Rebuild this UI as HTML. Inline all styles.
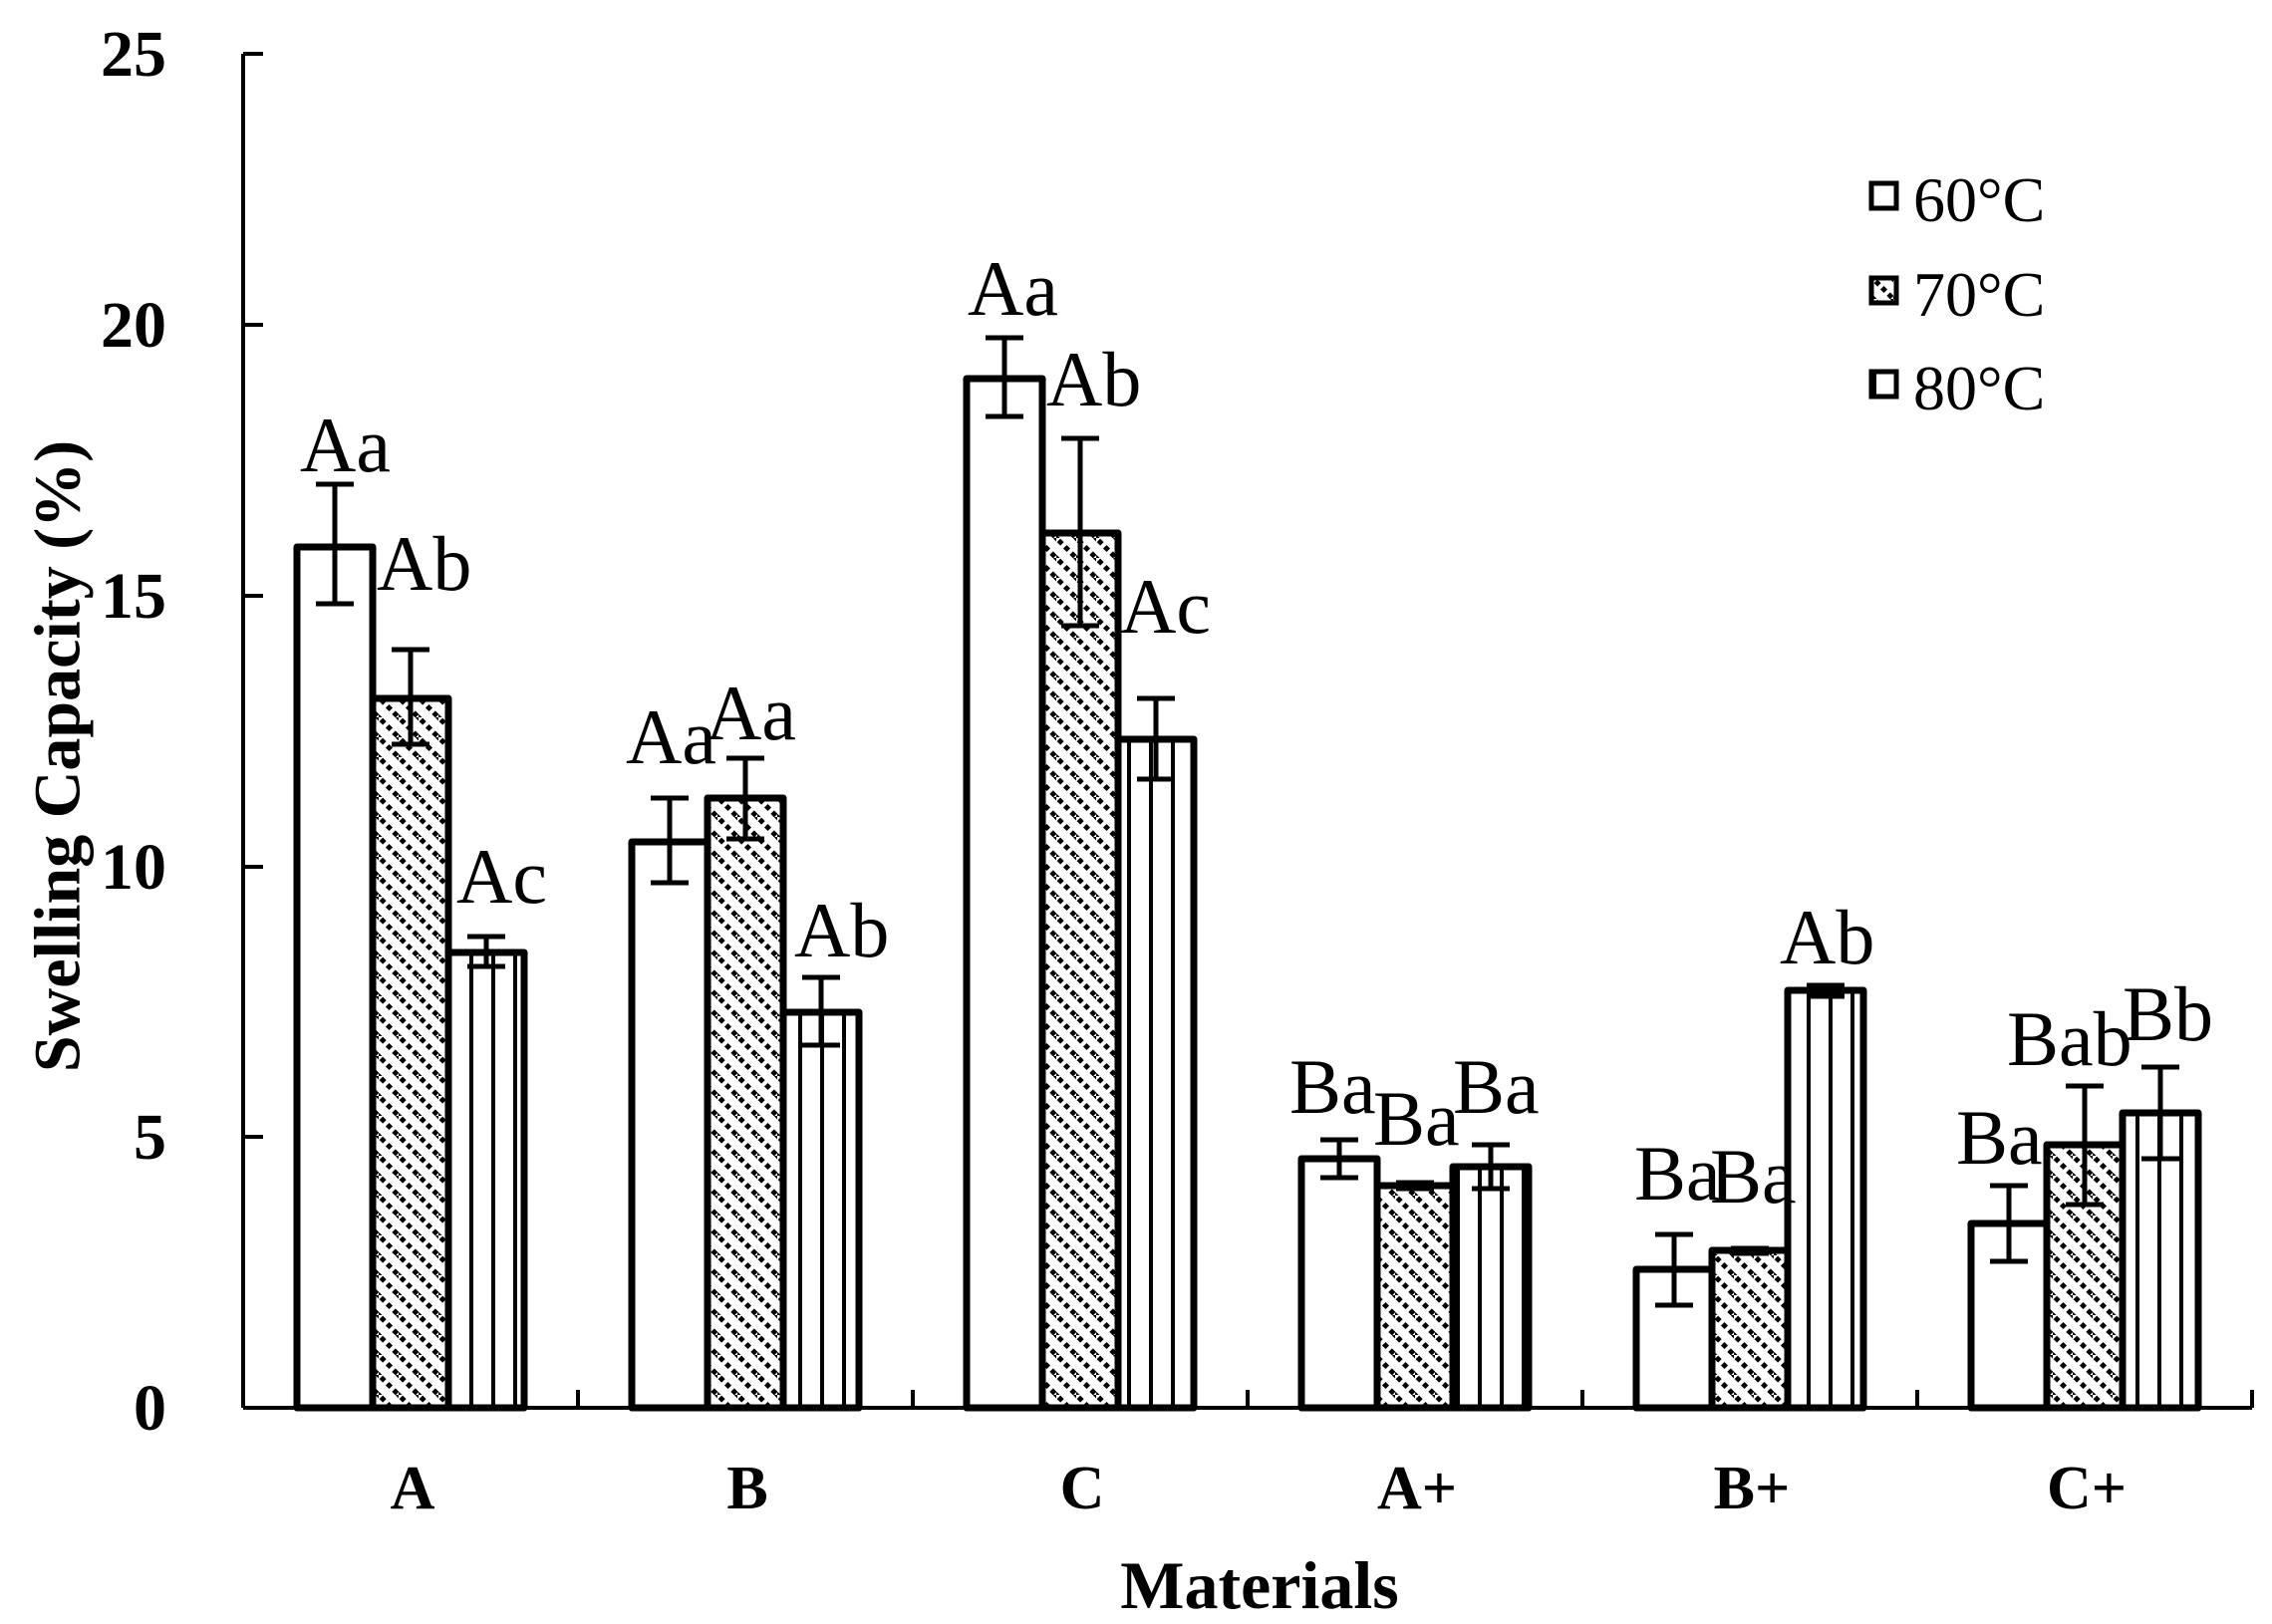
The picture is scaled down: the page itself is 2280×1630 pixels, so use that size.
<!DOCTYPE html>
<html><head><meta charset="utf-8"><style>body{margin:0;background:#fff}svg{display:block}</style></head>
<body>
<svg width="2280" height="1630" viewBox="0 0 2280 1630" xmlns="http://www.w3.org/2000/svg" font-family="'Liberation Serif', serif">
<defs>
<pattern id="diag" patternUnits="userSpaceOnUse" width="20" height="20">
<rect width="20" height="20" fill="#fff"/>
<path d="M-4,-4 L24,24 M-14,6 L6,26 M6,-14 L26,6" stroke="#000" stroke-width="5" stroke-dasharray="5,4"/>
</pattern>
<pattern id="vert" patternUnits="userSpaceOnUse" width="22" height="10">
<rect width="22" height="10" fill="#fff"/>
<rect x="9" y="0" width="4" height="10" fill="#000"/>
</pattern>
</defs>
<g stroke="#000" stroke-width="4" fill="none">
<line x1="244" y1="54" x2="244" y2="1413"/>
<line x1="244" y1="1413" x2="2260" y2="1413"/>
<line x1="244" y1="54" x2="264" y2="54"/>
<line x1="244" y1="326" x2="264" y2="326"/>
<line x1="244" y1="598" x2="264" y2="598"/>
<line x1="244" y1="870" x2="264" y2="870"/>
<line x1="244" y1="1141" x2="264" y2="1141"/>
<line x1="580" y1="1413" x2="580" y2="1395"/>
<line x1="916" y1="1413" x2="916" y2="1395"/>
<line x1="1252" y1="1413" x2="1252" y2="1395"/>
<line x1="1588" y1="1413" x2="1588" y2="1395"/>
<line x1="1924" y1="1413" x2="1924" y2="1395"/>
<line x1="2260" y1="1413" x2="2260" y2="1395"/>
</g>
<g font-weight="bold" font-size="66" text-anchor="end">
<text x="167" y="76">25</text><text x="167" y="348">20</text><text x="167" y="620">15</text><text x="167" y="892">10</text><text x="167" y="1163">5</text><text x="167" y="1435">0</text>
</g>
<text transform="translate(58,759) rotate(-90)" text-anchor="middle" dominant-baseline="central" font-weight="bold" font-size="66">Swelling Capacity (%)</text>
<g font-weight="bold" font-size="62" text-anchor="middle">
<text x="414" y="1514">A</text><text x="750" y="1514">B</text><text x="1086" y="1514">C</text><text x="1422" y="1514">A+</text><text x="1758" y="1514">B+</text><text x="2094" y="1514">C+</text>
</g>
<text x="1264" y="1614" text-anchor="middle" font-weight="bold" font-size="68">Materials</text>
<g stroke="#000" stroke-width="7" stroke-linejoin="round">
<rect x="298" y="549" width="76" height="864" fill="#fff"/>
<rect x="374" y="701" width="76" height="712" fill="url(#diag)"/>
<rect x="450" y="956" width="76" height="457" fill="url(#vert)"/>
<rect x="634" y="845" width="76" height="568" fill="#fff"/>
<rect x="710" y="801" width="76" height="612" fill="url(#diag)"/>
<rect x="786" y="1016" width="76" height="397" fill="url(#vert)"/>
<rect x="970" y="380" width="76" height="1033" fill="#fff"/>
<rect x="1046" y="535" width="76" height="878" fill="url(#diag)"/>
<rect x="1122" y="742" width="76" height="671" fill="url(#vert)"/>
<rect x="1306" y="1163" width="76" height="250" fill="#fff"/>
<rect x="1382" y="1190" width="76" height="223" fill="url(#diag)"/>
<rect x="1458" y="1171" width="76" height="242" fill="url(#vert)"/>
<rect x="1642" y="1274" width="76" height="139" fill="#fff"/>
<rect x="1718" y="1255" width="76" height="158" fill="url(#diag)"/>
<rect x="1794" y="994" width="76" height="419" fill="url(#vert)"/>
<rect x="1978" y="1228" width="76" height="185" fill="#fff"/>
<rect x="2054" y="1149" width="76" height="264" fill="url(#diag)"/>
<rect x="2130" y="1117" width="76" height="296" fill="url(#vert)"/>
</g>
<g stroke="#000" stroke-width="5" fill="none">
<path d="M336,606V486M317,486H355M317,606H355"/>
<path d="M412,747V652M393,652H431M393,747H431"/>
<path d="M488,970V940M469,940H507M469,970H507"/>
<path d="M672,886V801M653,801H691M653,886H691"/>
<path d="M748,842V761M729,761H767M729,842H767"/>
<path d="M824,1049V981M805,981H843M805,1049H843"/>
<path d="M1008,418V339M989,339H1027M989,418H1027"/>
<path d="M1084,628V440M1065,440H1103M1065,628H1103"/>
<path d="M1160,782V701M1141,701H1179M1141,782H1179"/>
<path d="M1344,1182V1144M1325,1144H1363M1325,1182H1363"/>
<path d="M1420,1193V1187M1401,1187H1439M1401,1193H1439"/>
<path d="M1496,1193V1149M1477,1149H1515M1477,1193H1515"/>
<path d="M1680,1310V1239M1661,1239H1699M1661,1310H1699"/>
<path d="M1756,1258V1253M1737,1253H1775M1737,1258H1775"/>
<path d="M1832,1000V989M1813,989H1851M1813,1000H1851"/>
<path d="M2016,1266V1190M1997,1190H2035M1997,1266H2035"/>
<path d="M2092,1209V1090M2073,1090H2111M2073,1209H2111"/>
<path d="M2168,1163V1071M2149,1071H2187M2149,1163H2187"/>
</g>
<g font-size="78">
<text x="301" y="473">Aa</text><text x="378" y="592">Ab</text><text x="458" y="906">Ac</text>
<text x="628" y="766">Aa</text><text x="708" y="742">Aa</text><text x="797" y="960">Ab</text>
<text x="971" y="316">Aa</text><text x="1050" y="407">Ab</text><text x="1124" y="635">Ac</text>
<text x="1294" y="1117">Ba</text><text x="1378" y="1149">Ba</text><text x="1458" y="1117">Ba</text>
<text x="1640" y="1204">Ba</text><text x="1716" y="1207">Ba</text><text x="1786" y="967">Ab</text>
<text x="1963" y="1168">Ba</text><text x="2014" y="1069">Bab</text><text x="2130" y="1044">Bb</text>
</g>
<g stroke="#000" stroke-width="5">
<rect x="1878" y="184" width="25" height="25" fill="#fff"/>
<rect x="1878" y="279" width="25" height="25" fill="url(#diag)"/>
<rect x="1878" y="373" width="25" height="25" fill="url(#vert)"/>
</g>
<g font-size="64">
<text x="1920" y="222">60°C</text><text x="1920" y="317">70°C</text><text x="1920" y="411">80°C</text>
</g>
</svg>
</body></html>
